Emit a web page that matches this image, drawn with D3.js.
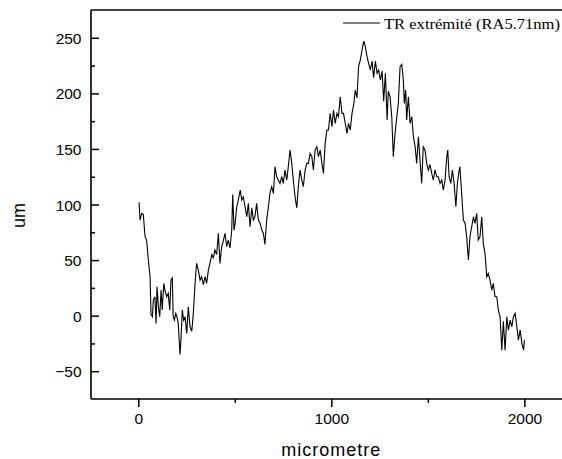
<!DOCTYPE html>
<html>
<head>
<meta charset="utf-8">
<script src="https://cdn.jsdelivr.net/npm/d3@7/dist/d3.min.js"></script>
<style>
  html, body { margin: 0; padding: 0; background: #fff; }
  svg { display: block; }
  .tick text { font-family: "Liberation Sans", Arial, sans-serif; font-size: 15.5px; fill: #000; }
</style>
</head>
<body>
<svg id="chart" width="562" height="459"></svg>
<script>
// ---- data ----
const positions = [
  4,9,18,26,35,43,52,61,66,73,78,86,92,97,104,111,118,124,132,138,147,155,163,169,176,181,187,194,200,207,216,221,228,235,242,251,259,268,277,285,294,302,311,320,328,337,346,354,363,371,381,389,397,406,415,423,432,440,449,458,466,475,484,489,496,501,510,518,528,536,544,553,562,570,579,588,596,
  604,613,622,631,640,648,656,665,674,682,691,700,708,717,725,734,743,751,760,769,777,786,795,803,812,821,829,838,847,855,864,873,881,890,899,907,916,925,933,942,951,959,968,977,985,994,1003,1011,1020,1029,1037,1046,1055,1063,1072,1081,1089,1098,1107,1116,1124,1133,1141,1150,1159,1168,1176,1185,1193,1202,1211,1219,1228,1237,1245,1254,1263,1271,1280,1289,1295,1304,1313,1321,
  1330,1339,1347,1356,1365,1373,1378,1385,1390,1399,1408,1417,1425,1434,1442,1451,1459,1468,1476,1485,1494,1502,1511,1520,1528,1537,1546,1554,1563,1572,1580,1589,1598,1603,1610,1619,1627,1636,1645,1653,1662,1666,1675,1684,1693,1701,1710,1718,1727,1736,1744,1753,1761,1770,1779,1787,1796,1805,1813,1822,1831,1839,1848,1857,1865,1874,1883,1891,1900,1909,1917,1926,1935,1943,1952,1961,1969,1978,1987,1996,2000
];
const heights = [
  102,86,92,91,71,68,50,35,1,-1,14,17,-7,26,8,-1,23,5,29,23,17,20,5,32,34,-1,-4,2,-1,-7,-35,-22,5,-4,-1,-16,8,-10,-14,2,29,47,41,32,35,28,35,29,41,47,55,52,59,55,74,47,62,67,74,62,68,61,77,109,77,82,98,104,113,104,107,98,89,101,80,97,86,
  89,101,86,83,77,74,64,86,98,110,116,110,134,125,122,119,125,119,131,122,134,149,137,122,107,97,116,131,122,116,131,137,137,146,143,131,149,152,143,149,137,128,155,167,167,182,170,185,173,182,179,197,182,182,173,164,173,167,182,190,203,196,224,230,239,247,242,233,227,221,229,214,229,218,221,212,220,193,218,176,202,197,179,143,
  164,179,191,224,226,212,191,203,176,197,173,179,161,152,137,161,140,119,152,149,137,131,136,128,122,131,125,125,119,122,113,122,143,149,125,119,131,119,98,119,131,134,110,86,83,71,50,71,80,89,83,92,68,71,89,65,56,35,38,32,23,29,17,17,5,-1,-31,-5,-31,-1,-13,-4,-10,-1,2,-10,-22,-13,-25,-31,-22
];
const xMajorTicks = [0, 1000, 2000];
const xMinorTicks = [500, 1500];
const yMajorTicks = [-50, 0, 50, 100, 150, 200, 250];
const yMinorTicks = [-25, 25, 75, 125, 175, 225];
const xTitle = "micrometre";
const yTitle = "um";
const seriesName = "TR extrémité (RA5.71nm)";

// ---- layout ----
const svg = d3.select("#chart");
const plotLeft = 91, plotTop = 10, plotBottom = 399, plotRight = 563;

const x = d3.scaleLinear().domain([-245, 2200]).range([plotLeft, plotRight]);
const y = d3.scaleLinear().domain([-75, 275]).range([plotBottom, plotTop]);

// minor ticks
svg.append("g").attr("transform", `translate(${plotLeft},0)`)
  .call(d3.axisLeft(y).tickValues(yMinorTicks).tickSizeInner(-4).tickSizeOuter(0).tickFormat(""))
  .call(g => g.select(".domain").remove())
  .call(g => g.selectAll("line").attr("stroke", "#000").attr("stroke-width", 1.5));
svg.append("g").attr("transform", `translate(0,${plotBottom})`)
  .call(d3.axisBottom(x).tickValues(xMinorTicks).tickSizeInner(4).tickSizeOuter(0).tickFormat(""))
  .call(g => g.select(".domain").remove())
  .call(g => g.selectAll("line").attr("stroke", "#000").attr("stroke-width", 1.5));

// major ticks
svg.append("g").attr("transform", `translate(${plotLeft},0)`)
  .call(d3.axisLeft(y).tickValues(yMajorTicks).tickSizeInner(-8).tickSizeOuter(0).tickPadding(9.5).tickFormat(d3.format("d")))
  .call(g => g.select(".domain").remove())
  .call(g => g.selectAll("line").attr("stroke", "#000").attr("stroke-width", 1.5))
  .call(g => g.selectAll("text").attr("dy", "0.36em"));
svg.append("g").attr("transform", `translate(0,${plotBottom})`)
  .call(d3.axisBottom(x).tickValues(xMajorTicks).tickSizeInner(8).tickSizeOuter(0).tickPadding(6).tickFormat(d3.format("d")))
  .call(g => g.select(".domain").remove())
  .call(g => g.selectAll("line").attr("stroke", "#000").attr("stroke-width", 1.5));

// frame
const frame = svg.append("g").attr("stroke", "#000").attr("stroke-width", 1.6).attr("fill", "none");
frame.append("line").attr("x1", plotLeft).attr("x2", plotLeft).attr("y1", plotTop).attr("y2", plotBottom);
frame.append("line").attr("x1", plotLeft).attr("x2", plotRight).attr("y1", plotBottom).attr("y2", plotBottom);
frame.append("line").attr("x1", plotLeft).attr("x2", plotRight).attr("y1", plotTop).attr("y2", plotTop);

// data line
const pts = positions.map((p, i) => [p, heights[i]]);
svg.append("path")
  .datum(pts)
  .attr("fill", "none")
  .attr("stroke", "#000")
  .attr("stroke-width", 1.1)
  .attr("stroke-linejoin", "miter")
  .attr("d", d3.line().x(d => x(d[0])).y(d => y(d[1])));

// axis titles
svg.append("text")
  .attr("x", x(1000)).attr("y", 456)
  .attr("text-anchor", "middle")
  .attr("font-family", "Liberation Sans, Arial, sans-serif")
  .attr("font-size", 18).attr("letter-spacing", 1)
  .text(xTitle);
svg.append("text")
  .attr("transform", "translate(25,215.5) rotate(-90)")
  .attr("text-anchor", "middle")
  .attr("font-family", "Liberation Sans, Arial, sans-serif")
  .attr("font-size", 18)
  .text(yTitle);

// legend
svg.append("line").attr("x1", 343).attr("x2", 380).attr("y1", 23).attr("y2", 23)
  .attr("stroke", "#000").attr("stroke-width", 1);
svg.append("text")
  .attr("x", 384).attr("y", 28.5)
  .attr("font-family", "Liberation Serif, Times New Roman, serif")
  .attr("font-size", 15.5)
  .attr("textLength", 176).attr("lengthAdjust", "spacingAndGlyphs")
  .text(seriesName);
</script>
</body>
</html>
